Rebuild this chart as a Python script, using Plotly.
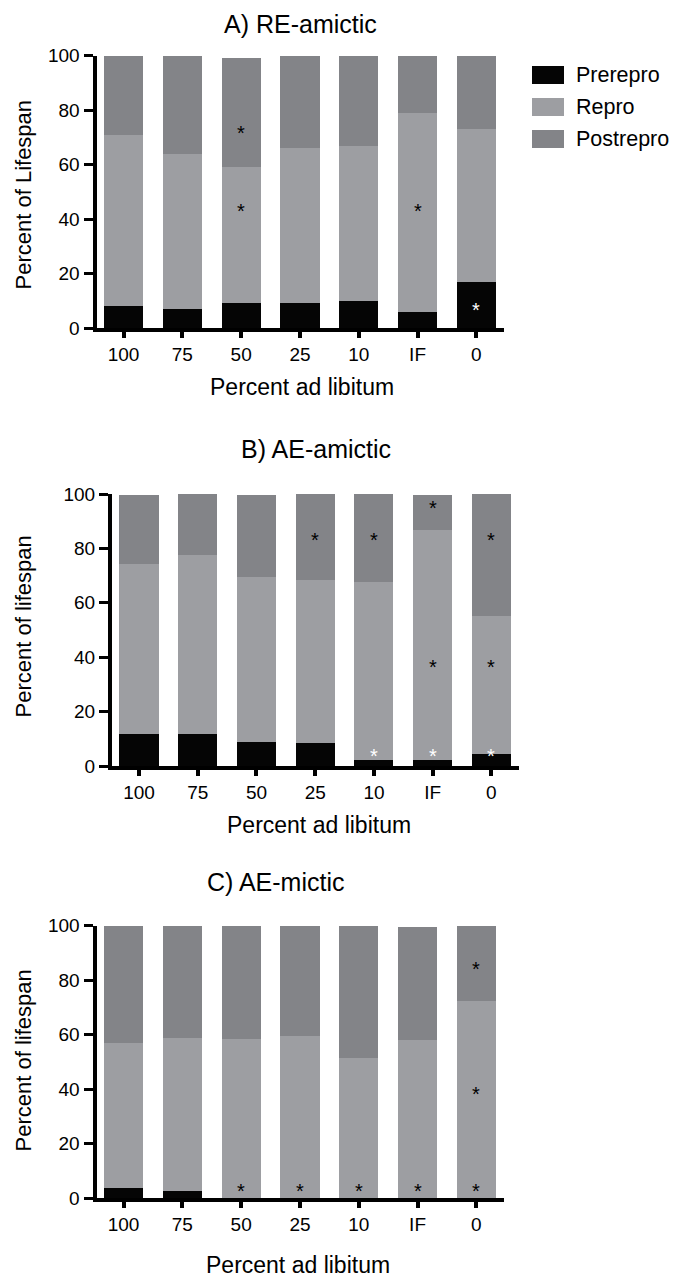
import plotly.graph_objects as go

FONT = "Liberation Sans, Arial, Helvetica, sans-serif"

# the page body adds an 8px margin, so the figure is made 8px smaller
# and every reference pixel position is shifted by that offset
PAGE_OFFSET = 8
W, H = 678 - PAGE_OFFSET, 1280 - PAGE_OFFSET

CATEGORIES = ["100", "75", "50", "25", "10", "IF", "0"]

# segment heights (percent of lifespan)
A_PRE = [8, 7, 9, 9, 10, 6, 17]
A_REPRO = [63, 57, 50, 57, 57, 73, 56]
A_POST = [29, 36, 40, 34, 33, 21, 27]

B_PRE = [11.7, 11.6, 8.7, 8.4, 2.3, 2.2, 4.4]
B_REPRO = [62.5, 65.8, 60.9, 60.1, 65.5, 84.5, 50.9]
B_POST = [25.6, 22.6, 30.2, 31.5, 32.2, 13.1, 44.7]

C_PRE = [3.7, 2.7, 0, 0, 0, 0, 0]
C_REPRO = [53.1, 56.1, 58.5, 59.4, 51.5, 58.1, 72.2]
C_POST = [43.2, 41.2, 41.5, 40.6, 48.5, 41.4, 27.8]

# significance stars: (category, y, colour)
A_STARS = [("50", 72.3, "black"), ("50", 43.7, "black"), ("IF", 43.7, "black"), ("0", 7.3, "white")]
B_STARS = [("25", 84, "black"), ("10", 84, "black"), ("IF", 95.6, "black"), ("0", 84, "black"),
           ("IF", 37, "black"), ("0", 37, "black"),
           ("10", 4.4, "white"), ("IF", 4.4, "white"), ("0", 4.4, "white")]
C_STARS = [("0", 84.7, "black"), ("0", 38.9, "black"),
           ("50", 3.3, "black"), ("25", 3.3, "black"), ("10", 3.3, "black"),
           ("IF", 3.3, "black"), ("0", 3.3, "black")]

SERIES_NAMES = ["Prerepro", "Repro", "Postrepro"]
SERIES_COLORS = ["#050505", "#9d9ea2", "#838488"]

TITLES = ["A) RE-amictic", "B) AE-amictic", "C) AE-mictic"]
Y_TITLES = ["Percent of Lifespan", "Percent of lifespan", "Percent of lifespan"]
X_TITLE = "Percent ad libitum"

BAR_WIDTH = 0.665
X_RANGE = [-0.46, 6.47]


def px_x(x):
    return (x - PAGE_OFFSET) / W


def px_y(y):
    return 1 - (y - PAGE_OFFSET) / H


# panel geometry in reference pixels: (x_left, x_right, y_zero, y_hundred)
# title / x-title entries: (x, y, yanchor); None y means stick to the page edge
PANELS = [
    dict(data=(A_PRE, A_REPRO, A_POST), stars=A_STARS, box=(96.5, 504, 328, 55.7),
         title=(300, None, "top"), xtitle=(302, 387, "middle"), ytitle_y=195),
    dict(data=(B_PRE, B_REPRO, B_POST), stars=B_STARS, box=(112, 519, 766, 494),
         title=(316, 449, "middle"), xtitle=(319, 825, "middle"), ytitle_y=627),
    dict(data=(C_PRE, C_REPRO, C_POST), stars=C_STARS, box=(96.5, 504, 1198, 925.7),
         title=(276, 882, "middle"), xtitle=(298, None, "bottom"), ytitle_y=1061),
]


def _edge_y(y, anchor):
    if y is not None:
        return px_y(y)
    return 1 if anchor == "top" else 0


fig = go.Figure()
annotations = []
shapes = []
layout_axes = {}

for i, panel in enumerate(PANELS):
    n = "" if i == 0 else str(i + 1)
    xa, ya = "x" + n, "y" + n
    x0, x1, y0, y1 = panel["box"]

    for name, color, values in zip(SERIES_NAMES, SERIES_COLORS, panel["data"]):
        fig.add_trace(go.Bar(
            x=CATEGORIES, y=values, name=name, marker_color=color,
            marker_line_width=0, width=BAR_WIDTH,
            xaxis=xa, yaxis=ya, showlegend=False,
        ))

    layout_axes["xaxis" + n] = dict(
        domain=[px_x(x0), px_x(x1)], anchor=ya, type="category",
        categoryorder="array", categoryarray=CATEGORIES, range=X_RANGE,
        showline=True, linewidth=4, linecolor="black",
        ticks="outside", ticklen=6, tickwidth=4, tickcolor="black",
        showgrid=False, zeroline=False, automargin=False,
        tickfont=dict(family=FONT, size=19, color="black"),
    )
    layout_axes["yaxis" + n] = dict(
        domain=[px_y(y0), px_y(y1)], anchor=xa, range=[0, 100],
        tickvals=[0, 20, 40, 60, 80, 100],
        showline=True, linewidth=4, linecolor="black",
        ticks="outside", ticklen=9, tickwidth=3, tickcolor="black",
        showgrid=False, zeroline=False, automargin=False,
        tickfont=dict(family=FONT, size=19, color="black"),
    )

    # numeric-looking category names are read as indices by annotations
    for cat, yv, col in panel["stars"]:
        annotations.append(dict(
            x=CATEGORIES.index(cat), y=yv, xref=xa, yref=ya, text="*", showarrow=False,
            font=dict(family=FONT, size=20, color=col), yshift=-2,
        ))

    tx, ty, anchor = panel["title"]
    annotations.append(dict(
        x=px_x(tx), y=_edge_y(ty, anchor), xref="paper", yref="paper", text=TITLES[i],
        showarrow=False, font=dict(family=FONT, size=25, color="black"),
        xanchor="center", yanchor=anchor,
    ))
    tx, ty, anchor = panel["xtitle"]
    annotations.append(dict(
        x=px_x(tx), y=_edge_y(ty, anchor), xref="paper", yref="paper", text=X_TITLE,
        showarrow=False, font=dict(family=FONT, size=23, color="black"),
        xanchor="center", yanchor=anchor,
    ))
    annotations.append(dict(
        x=0, y=px_y(panel["ytitle_y"]), xref="paper", yref="paper", text=Y_TITLES[i],
        showarrow=False, textangle=-90, font=dict(family=FONT, size=22, color="black"),
        xanchor="left", yanchor="middle",
    ))

# legend drawn by hand so the swatches keep their wide shape
for k, (name, color) in enumerate(zip(SERIES_NAMES, SERIES_COLORS)):
    yc = 75 + 32 * k
    shapes.append(dict(
        type="rect", xref="paper", yref="paper",
        x0=px_x(532), x1=px_x(564), y0=px_y(yc + 9), y1=px_y(yc - 9),
        fillcolor=color, line_width=0,
    ))
    annotations.append(dict(
        x=px_x(574), y=px_y(yc), xref="paper", yref="paper", text=name,
        showarrow=False, font=dict(family=FONT, size=21.5, color="black"),
        xanchor="left", yanchor="middle",
    ))

fig.update_layout(
    width=W, height=H,
    margin=dict(l=0, r=0, t=0, b=0),
    paper_bgcolor="white", plot_bgcolor="white",
    barmode="stack",
    showlegend=False,
    annotations=annotations,
    shapes=shapes,
    font=dict(family=FONT, color="black"),
    **layout_axes,
)

fig.write_html("out.html")
